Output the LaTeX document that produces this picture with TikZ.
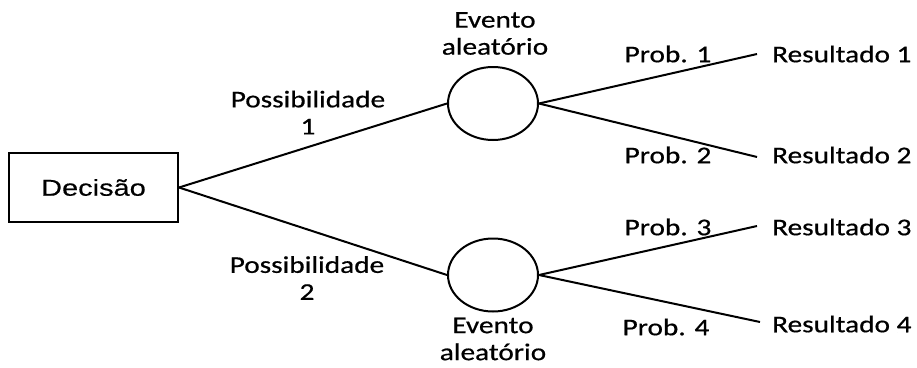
\documentclass[tikz,border=0pt]{standalone}
\usepackage{fontspec}
\setmainfont{Carlito}[FakeStretch=1.22,FakeBold=0.6]
\newfontfamily\arialf{Liberation Sans}[FakeStretch=1.26,FakeBold=0.3]
\usetikzlibrary{shapes.geometric}
\begin{document}
\begin{tikzpicture}[x=1pt,y=-1pt,
  lbl/.style={inner sep=0pt,align=center,font=\fontsize{24}{27}\selectfont},
  conn/.style={line width=2pt},
  evt/.style={draw,line width=2pt,ellipse,minimum width=90pt,minimum height=73pt,inner sep=0pt},
  dec/.style={draw,line width=2pt,minimum width=169pt,minimum height=69pt,inner sep=0pt,font=\arialf\fontsize{23}{27}\selectfont},
  res/.style={lbl,anchor=west}]
\useasboundingbox (0,0) rectangle (917,367);
\node[dec] (d) at (93.5,187.5) {Decisão};
\node[evt] (c1) at (493,103.5) {};
\node[evt] (c2) at (493,275) {};
\node[res] (r1) at (772,54) {Resultado 1};
\node[res] (r2) at (772,155) {Resultado 2};
\node[res] (r3) at (772,227) {Resultado 3};
\node[res] (r4) at (772,324) {Resultado 4};
\coordinate (e1) at (757,54);
\coordinate (e2) at (757,157);
\coordinate (e3) at (757,226);
\coordinate (e4) at (760,322);
\draw[conn] (d.east) -- (c1.west);
\draw[conn] (d.east) -- (c2.west);
\draw[conn] (c1.east) -- (e1);
\draw[conn] (c1.east) -- (e2);
\draw[conn] (c2.east) -- (e3);
\draw[conn] (c2.east) -- (e4);
\node[lbl] (t1) at (495,33.5) {Evento\\aleatório};
\node[lbl] (t2) at (493,339) {Evento\\aleatório};
\node[lbl] (p1) at (308,112.5) {Possibilidade\\1};
\node[lbl] (p2) at (307,278) {Possibilidade\\2};
\node[lbl] (q1) at (668,54) {Prob. 1};
\node[lbl] (q2) at (668,155) {Prob. 2};
\node[lbl] (q3) at (668,227) {Prob. 3};
\node[lbl] (q4) at (666,327) {Prob. 4};
\end{tikzpicture}
\end{document}
